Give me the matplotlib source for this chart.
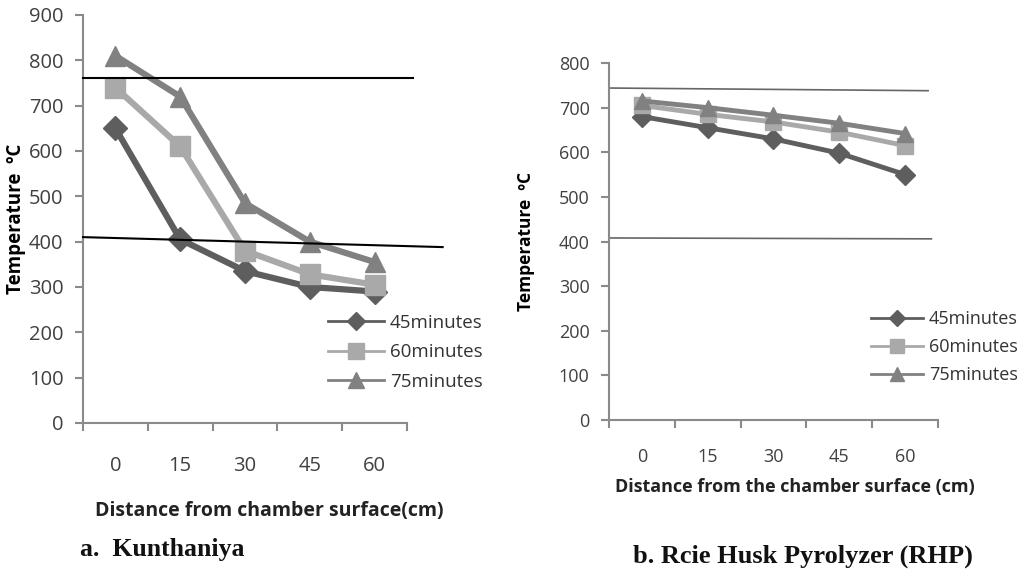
import numpy as np
import matplotlib
matplotlib.use('Agg')
import matplotlib.pyplot as plt
from matplotlib.lines import Line2D

plt.rcParams['font.family'] = ['Open Sans', 'DejaVu Sans']

# datos
distances = ['0', '15', '30', '45', '60']
series = ['45minutes', '60minutes', '75minutes']
kun_45 = [650, 405, 335, 300, 290]
kun_60 = [740, 610, 380, 328, 305]
kun_75 = [810, 720, 485, 400, 355]
rhp_45 = [680, 655, 630, 598, 550]
rhp_60 = [705, 685, 668, 645, 615]
rhp_75 = [715, 700, 683, 665, 642]

# lineas de referencia (x inicio, x fin, y inicio, y fin)
kun_ref_top = ([-0.5, 4.6], [760, 760])
kun_ref_low = ([-0.5, 5.05], [410, 388])
rhp_ref_top = ([-0.5, 4.35], [744, 738])
rhp_ref_low = ([-0.5, 4.4], [408, 406])

colors = ['#5e5e5e', '#a9a9a9', '#818181']
markers = ['D', 's', '^']
tick_color = '#404040'
spine_color = '#8a8a8a'

fig = plt.figure(figsize=(10.17, 5.72), dpi=100)
ax1 = fig.add_axes([0.0816, 0.2605, 0.3186, 0.7133])
ax2 = fig.add_axes([0.5988, 0.2657, 0.3235, 0.6241])


def style_axis(ax, ymax, fs, pad_x):
    x = np.arange(len(distances))
    ax.set_xlim(-0.5, len(distances) - 0.5)
    ax.set_ylim(0, ymax)
    ax.set_yticks(np.arange(0, ymax + 1, 100))
    ax.set_xticks(x)
    ax.set_xticklabels(distances)
    ax.set_xticks(np.arange(-0.5, len(distances)), minor=True)
    ax.tick_params(axis='x', which='major', length=0, pad=pad_x, labelsize=fs, labelcolor=tick_color)
    ax.tick_params(axis='x', which='minor', length=6, width=1.5, color=spine_color)
    ax.tick_params(axis='y', length=6, width=1.5, color=spine_color, labelsize=fs, labelcolor=tick_color, pad=8)
    for s in ['top', 'right']:
        ax.spines[s].set_visible(False)
    for s in ['left', 'bottom']:
        ax.spines[s].set_color(spine_color)
        ax.spines[s].set_linewidth(1.5)
    ax.patch.set_alpha(0)


def legend_handles(ms):
    return [Line2D([], [], color=c, marker=m, markersize=ms if m != 'D' else ms - 2, linewidth=2)
            for c, m in zip(colors, markers)]


# panel a
x = np.arange(len(distances))
for vals, c, m, lab in zip([kun_45, kun_60, kun_75], colors, markers, series):
    ax1.plot(x, vals, color=c, marker=m, markersize=15 if m != 'D' else 12, linewidth=4.5, label=lab,
             clip_on=False, zorder=3)
ax1.plot(*kun_ref_top, color='black', linewidth=1.5, clip_on=False, zorder=4)
ax1.plot(*kun_ref_low, color='black', linewidth=1.5, clip_on=False, zorder=4)
style_axis(ax1, 900, 14.5, 24)
ax1.set_ylabel('Temperature  ºC', fontsize=13.5, fontweight='bold', color='black')
ax1.yaxis.set_label_coords(-0.176, 0.5)
ax1.set_xlabel('Distance from chamber surface(cm)', fontsize=14, fontweight='bold', color='#222222')
ax1.xaxis.set_label_coords(0.574, -0.192)
leg1 = ax1.legend(legend_handles(11), series, loc='upper left', bbox_to_anchor=(0.756, 0.268), frameon=False,
                  fontsize=13.5, handlelength=3.0, labelspacing=0.62, handletextpad=0.3, borderaxespad=0,
                  borderpad=0)
for t in leg1.get_texts():
    t.set_color('#333333')

# panel b
for vals, c, m, lab in zip([rhp_45, rhp_60, rhp_75], colors, markers, series):
    ax2.plot(x, vals, color=c, marker=m, markersize=12 if m != 'D' else 10, linewidth=3.5, label=lab,
             clip_on=False, zorder=3)
ax2.plot(*rhp_ref_top, color='#666666', linewidth=1.2, clip_on=False, zorder=2)
ax2.plot(*rhp_ref_low, color='#666666', linewidth=1.2, clip_on=False, zorder=2)
style_axis(ax2, 800, 13, 20)
ax2.set_ylabel('Temperature  ºC', fontsize=12.5, fontweight='bold', color='black')
ax2.yaxis.set_label_coords(-0.225, 0.5)
ax2.set_xlabel('Distance from the chamber surface (cm)', fontsize=13, fontweight='bold', color='#222222')
ax2.xaxis.set_label_coords(0.565, -0.163)
leg2 = ax2.legend(legend_handles(10), series, loc='upper left', bbox_to_anchor=(0.796, 0.307), frameon=False,
                  fontsize=13, handlelength=2.9, labelspacing=0.55, handletextpad=0.3, borderaxespad=0,
                  borderpad=0)
for t in leg2.get_texts():
    t.set_color('#333333')

# leyendas de cada panel
fig.text(0.079, 0.028, 'a.  Kunthaniya', family='Liberation Serif', fontweight='bold', fontsize=18.5, color='#111111')
fig.text(0.622, 0.016, 'b. Rcie Husk Pyrolyzer (RHP)', family='Liberation Serif', fontweight='bold', fontsize=19,
         color='#111111')

fig.savefig('out.png', dpi=100)
